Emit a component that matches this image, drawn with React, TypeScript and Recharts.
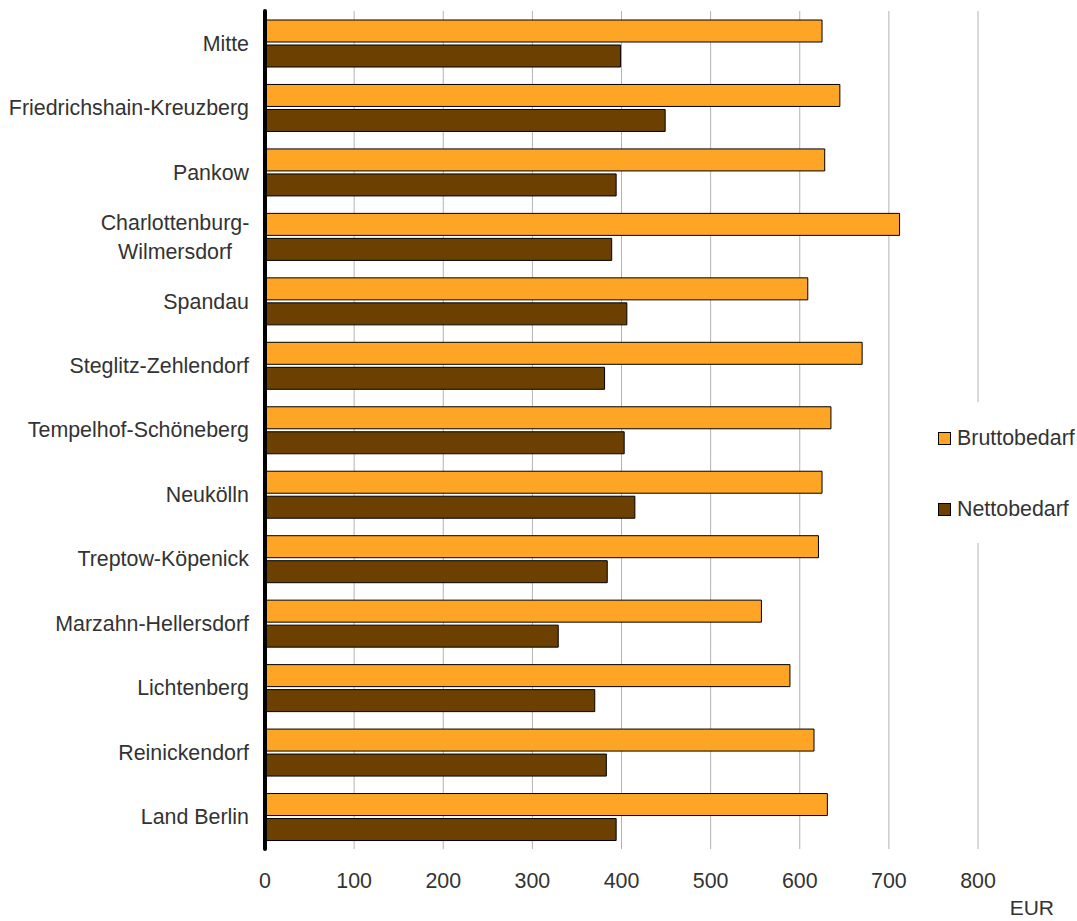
import { BarChart, Bar, XAxis, YAxis, CartesianGrid, Legend, Label } from 'recharts'

const categories = [
  'Mitte',
  'Friedrichshain-Kreuzberg',
  'Pankow',
  'Charlottenburg-\nWilmersdorf',
  'Spandau',
  'Steglitz-Zehlendorf',
  'Tempelhof-Schöneberg',
  'Neukölln',
  'Treptow-Köpenick',
  'Marzahn-Hellersdorf',
  'Lichtenberg',
  'Reinickendorf',
  'Land Berlin',
]
const brutto = [625, 645, 628, 712, 609, 670, 635, 625, 621, 557, 589, 616, 631]
const netto = [399, 449, 394, 389, 406, 381, 403, 415, 384, 329, 370, 383, 394]
const xTicks = [0, 100, 200, 300, 400, 500, 600, 700, 800]

const series = [
  { key: 'brutto', name: 'Bruttobedarf', color: '#ffa526' },
  { key: 'netto', name: 'Nettobedarf', color: '#6b4000' },
]

const data = categories.map((name, i) => ({ name, brutto: brutto[i], netto: netto[i] }))

const FONT = '"Liberation Sans", Arial, sans-serif'
const TEXT = '#333333'
const FS = 21.4

function CategoryTick({ x, y, payload }: any) {
  const lines = String(payload.value).split('\n')
  if (lines.length === 1) {
    return (
      <text x={x} y={y} dy="0.35em" textAnchor="end" fontSize={FS} fill={TEXT} fontFamily={FONT}>
        {lines[0]}
      </text>
    )
  }
  // multi-line labels: lines centred under each other, block right-aligned
  const lh = 29
  const top = y - ((lines.length - 1) * lh) / 2
  return (
    <text textAnchor="middle" fontSize={FS} fill={TEXT} fontFamily={FONT}>
      {lines.map((l, i) => (
        <tspan key={i} x={x - 74} y={top + i * lh} dy="0.35em">{l}</tspan>
      ))}
    </text>
  )
}

function LegendBox() {
  return (
    <div style={{ background: '#fff', width: '100%', height: '100%', paddingTop: 24, boxSizing: 'border-box', fontFamily: FONT, fontSize: FS, color: TEXT }}>
      {series.map((s, i) => (
        <div key={s.key} style={{ display: 'flex', alignItems: 'center', height: 25, marginBottom: i === 0 ? 46 : 0, paddingLeft: 10 }}>
          <span style={{ display: 'inline-block', width: 11, height: 11, background: s.color, border: '1px solid #000', marginRight: 6 }} />
          <span>{s.name}</span>
        </div>
      ))}
    </div>
  )
}

export default function App() {
  return (
    <div style={{ position: 'absolute', left: 0, top: 0, background: '#fff' }}>
      <BarChart
        width={1077}
        height={921}
        data={data}
        layout="vertical"
        margin={{ top: 11, right: 99, left: 0, bottom: 0 }}
        barSize={22}
        barGap={3}
      >
        <CartesianGrid horizontal={false} stroke="#b3b3b3" strokeWidth={1} />
        <XAxis
          type="number"
          domain={[0, 800]}
          ticks={xTicks}
          height={72}
          axisLine={false}
          tickLine={false}
          tickSize={0}
          tickMargin={24}
          tick={{ fontSize: FS, fill: TEXT, fontFamily: FONT }}
        >
          <Label
            content={({ viewBox }: any) => (
              <text x={viewBox.x + viewBox.width + 76} y={viewBox.y + 66} textAnchor="end" fontSize={21} fill={TEXT} fontFamily={FONT}>
                EUR
              </text>
            )}
          />
        </XAxis>
        <YAxis
          type="category"
          dataKey="name"
          width={265}
          axisLine={{ stroke: '#000', strokeWidth: 4, strokeLinecap: 'round' }}
          tickLine={false}
          tickSize={0}
          tickMargin={16}
          interval={0}
          tick={<CategoryTick />}
        />
        <Legend
          layout="vertical"
          align="center"
          verticalAlign="middle"
          wrapperStyle={{ left: 928, top: 402, width: 149, height: 141 }}
          content={<LegendBox />}
        />
        {series.map((s) => (
          <Bar key={s.key} dataKey={s.key} name={s.name} fill={s.color} stroke="#000" strokeWidth={1} isAnimationActive={false} />
        ))}
      </BarChart>
    </div>
  )
}
